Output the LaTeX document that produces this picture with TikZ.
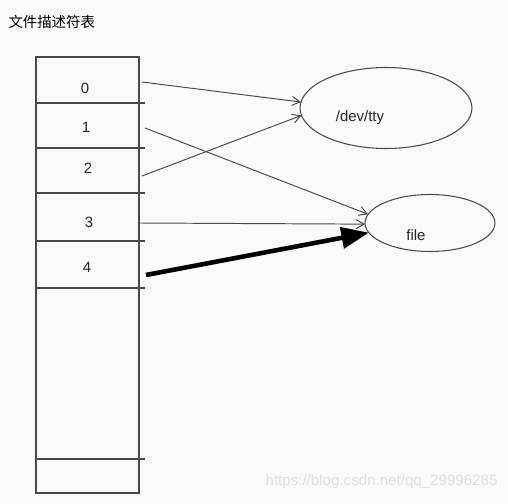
\documentclass[tikz,border=0pt]{standalone}
\usepackage{fontspec}
\setmainfont{Liberation Sans}
\newfontfamily\cjk{Noto Sans CJK SC}
\usetikzlibrary{arrows.meta, shapes.geometric}
\definecolor{cline}{HTML}{4A4A4A}
\definecolor{cbg}{HTML}{FAFAFA}
\tikzset{
  every picture/.style={font=\fontsize{8.5}{10}\selectfont, line width=0.6pt},
  lbl/.style={inner sep=1pt, text=black!85},
  oval/.style={draw=cline, ellipse, inner sep=0pt, outer sep=0pt},
  link/.style={-{Straight Barb[length=1.6mm, width=1.8mm]}, draw=cline, line width=0.55pt},
  fat/.style={-{Triangle[length=5.5mm, width=4.2mm]}, draw=black, line width=2.6pt},
}
\begin{document}
\begin{tikzpicture}[x=0.02cm, y=-0.02cm]
  \fill[cbg] (0,0) rectangle (508,504);
  \useasboundingbox (0,0) rectangle (508,504);
  \node[anchor=west, inner sep=0pt, font=\fontsize{8.2}{10}\selectfont] (title) at (8,22) {\cjk 文件描述符表};
  % descriptor table
  \draw[cline] (36,57) rectangle (139,493);
  \foreach \y in {103,148,193,241,288,459} {
    \draw[cline] (36,\y) -- (145,\y);
  }
  \node[lbl] (fd0) at (85,88) {0};
  \node[lbl] (fd1) at (86,127) {1};
  \node[lbl] (fd2) at (88,168) {2};
  \node[lbl] (fd3) at (89,222) {3};
  \node[lbl] (fd4) at (87,267) {4};
  \coordinate (s0) at (142,82);  \coordinate (s1) at (145,128);
  \coordinate (s2) at (142,176); \coordinate (s3) at (140,223);
  \coordinate (s4) at (146,275);
  % open files
  \node[oval, minimum width=3.44cm, minimum height=1.62cm] (tty) at (386,108) {};
  \node[lbl] (ttyname) at (360,118) {/dev/tty};
  \node[oval, minimum width=2.6cm, minimum height=1.14cm] (file) at (430,223) {};
  \node[lbl] (filename) at (416,235) {file};
  \draw[link] (s0) -- (tty.176);
  \draw[link] (s2) -- (tty.185);
  \draw[link] (s1) -- (file.172);
  \draw[link] (s3) -- (file.181);
  \draw[fat] (s4) -- (file.189);
  \node[anchor=east, inner sep=0pt, text=black!12, font=\fontsize{8.6}{10}\selectfont] (mark) at (498,482) {https://blog.csdn.net/qq\_29996285};
\end{tikzpicture}
\end{document}
